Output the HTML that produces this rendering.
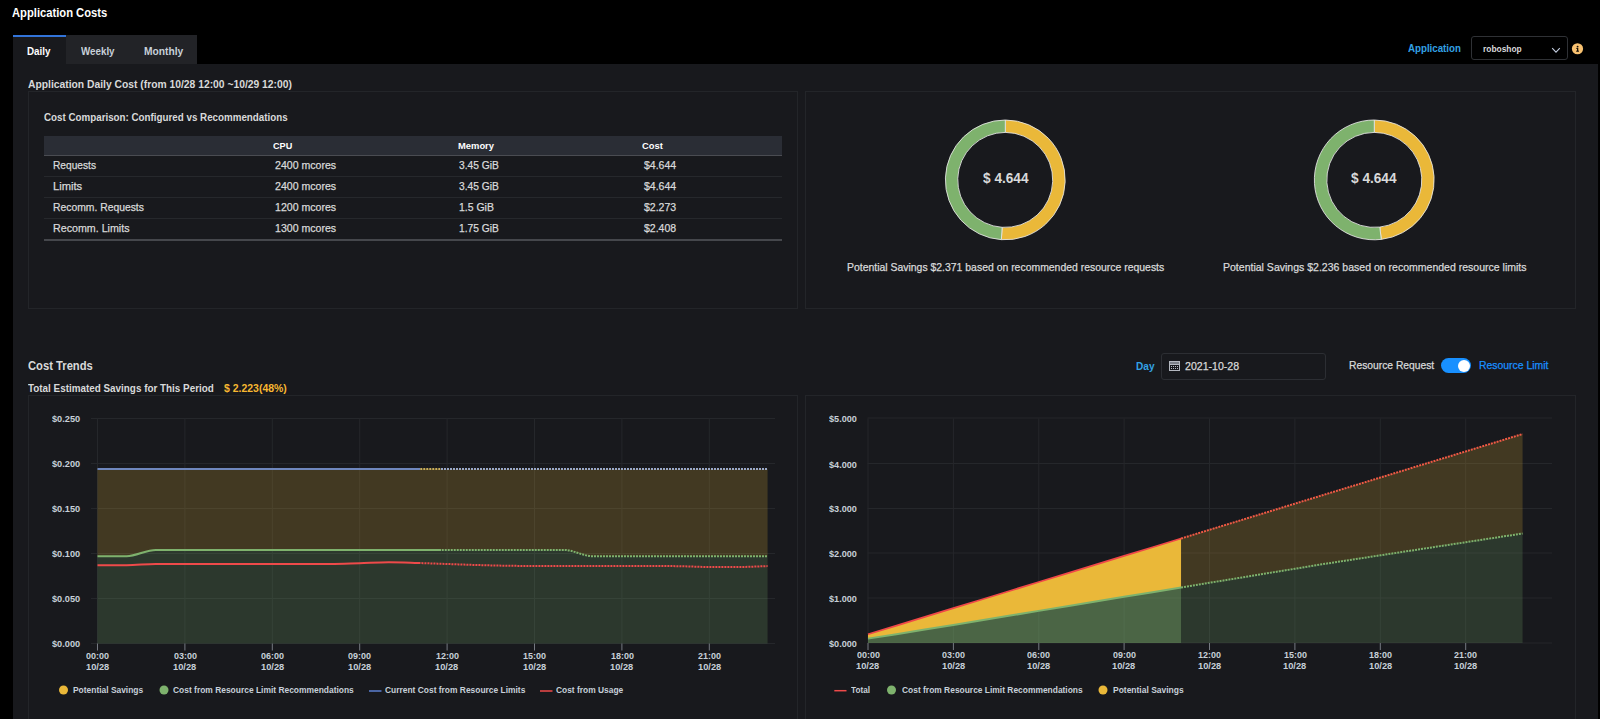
<!DOCTYPE html>
  <html><head><meta charset="utf-8"><style>
  *{box-sizing:border-box}
  html,body{margin:0;padding:0}
  body{width:1600px;height:719px;background:#000;position:relative;overflow:hidden;font-family:"Liberation Sans", sans-serif}
  .t{position:absolute;white-space:nowrap;transform-origin:0 0;font-family:"Liberation Sans", sans-serif}
  .a{position:absolute}
  </style></head><body>
  <!-- tabs -->
  <div class="a" style="left:13px;top:35px;width:53px;height:29px;background:#18191d;border-top:2px solid #3274d9"></div>
  <div class="a" style="left:66px;top:35px;width:131px;height:29px;background:#222327"></div>
  <!-- select -->
  <div class="a" style="left:1471px;top:36px;width:97px;height:24px;border:1px solid #2f3135;border-radius:3px;background:#000"></div>
  <!-- panel -->
  <div class="a" style="left:13px;top:64px;width:1585px;height:655px;background:#18191d"></div>
  <!-- boxes -->
  <div class="a" style="left:28px;top:91px;width:770px;height:218px;border:1px solid #232529"></div>
  <div class="a" style="left:805px;top:91px;width:771px;height:218px;border:1px solid #232529"></div>
  <div class="a" style="left:28px;top:395px;width:770px;height:340px;border:1px solid #232529"></div>
  <div class="a" style="left:805px;top:395px;width:771px;height:340px;border:1px solid #232529"></div>
  <!-- table -->
  <div class="a" style="left:44px;top:136px;width:738px;height:20px;background:#2a2d35;border-bottom:1px solid #4a4c52"></div>
  <div class="a" style="left:44px;top:176px;width:738px;height:1px;background:#26282c"></div>
  <div class="a" style="left:44px;top:197px;width:738px;height:1px;background:#26282c"></div>
  <div class="a" style="left:44px;top:218px;width:738px;height:1px;background:#26282c"></div>
  <div class="a" style="left:44px;top:239px;width:738px;height:2px;background:#45474c"></div>
  <!-- date input -->
  <div class="a" style="left:1161px;top:353px;width:165px;height:27px;border:1px solid #2c2e33;border-radius:3px"></div>
  <!-- toggle -->
  <div class="a" style="left:1441px;top:358px;width:30px;height:15px;border-radius:8px;background:#1890ff"></div>
  <div class="a" style="left:1457.5px;top:359.5px;width:12px;height:12px;border-radius:6px;background:#fff"></div>
  <svg class="a" style="left:0;top:0" width="1600" height="719" viewBox="0 0 1600 719">
  <line x1="91" y1="643.5" x2="775" y2="643.5" stroke="#25272b" stroke-width="1"/>
<line x1="91" y1="598.5" x2="775" y2="598.5" stroke="#25272b" stroke-width="1"/>
<line x1="91" y1="553.5" x2="775" y2="553.5" stroke="#25272b" stroke-width="1"/>
<line x1="91" y1="508.5" x2="775" y2="508.5" stroke="#25272b" stroke-width="1"/>
<line x1="91" y1="463.5" x2="775" y2="463.5" stroke="#25272b" stroke-width="1"/>
<line x1="91" y1="418.5" x2="775" y2="418.5" stroke="#25272b" stroke-width="1"/>
<line x1="97.5" y1="418.5" x2="97.5" y2="643.5" stroke="#25272b" stroke-width="1"/>
<line x1="97.5" y1="643.5" x2="97.5" y2="650.5" stroke="#767a82" stroke-width="1"/>
<line x1="184.9" y1="418.5" x2="184.9" y2="643.5" stroke="#25272b" stroke-width="1"/>
<line x1="184.9" y1="643.5" x2="184.9" y2="650.5" stroke="#767a82" stroke-width="1"/>
<line x1="272.3" y1="418.5" x2="272.3" y2="643.5" stroke="#25272b" stroke-width="1"/>
<line x1="272.3" y1="643.5" x2="272.3" y2="650.5" stroke="#767a82" stroke-width="1"/>
<line x1="359.7" y1="418.5" x2="359.7" y2="643.5" stroke="#25272b" stroke-width="1"/>
<line x1="359.7" y1="643.5" x2="359.7" y2="650.5" stroke="#767a82" stroke-width="1"/>
<line x1="447.1" y1="418.5" x2="447.1" y2="643.5" stroke="#25272b" stroke-width="1"/>
<line x1="447.1" y1="643.5" x2="447.1" y2="650.5" stroke="#767a82" stroke-width="1"/>
<line x1="534.5" y1="418.5" x2="534.5" y2="643.5" stroke="#25272b" stroke-width="1"/>
<line x1="534.5" y1="643.5" x2="534.5" y2="650.5" stroke="#767a82" stroke-width="1"/>
<line x1="621.9" y1="418.5" x2="621.9" y2="643.5" stroke="#25272b" stroke-width="1"/>
<line x1="621.9" y1="643.5" x2="621.9" y2="650.5" stroke="#767a82" stroke-width="1"/>
<line x1="709.3" y1="418.5" x2="709.3" y2="643.5" stroke="#25272b" stroke-width="1"/>
<line x1="709.3" y1="643.5" x2="709.3" y2="650.5" stroke="#767a82" stroke-width="1"/>
<path d="M97.50,556.20 C107.21,556.20 116.92,556.20 126.63,556.20 C136.34,556.20 146.06,549.90 155.77,549.90 C165.48,549.90 175.19,549.90 184.90,549.90 C194.61,549.90 204.32,549.90 214.03,549.90 C223.74,549.90 233.46,549.90 243.17,549.90 C252.88,549.90 262.59,549.90 272.30,549.90 C282.01,549.90 291.72,549.90 301.43,549.90 C311.14,549.90 320.86,549.90 330.57,549.90 C340.28,549.90 349.99,549.90 359.70,549.90 C369.41,549.90 379.12,549.90 388.83,549.90 C398.54,549.90 408.26,549.90 417.97,549.90 C427.68,549.90 437.39,549.90 447.10,549.90 C456.81,549.90 466.52,549.90 476.23,549.90 C485.94,549.90 495.66,549.90 505.37,549.90 C515.08,549.90 524.79,549.90 534.50,549.90 C544.21,549.90 553.92,549.90 563.63,549.90 C573.34,549.90 583.06,556.20 592.77,556.20 C602.48,556.20 612.19,556.20 621.90,556.20 C631.61,556.20 641.32,556.20 651.03,556.20 C660.74,556.20 670.46,556.20 680.17,556.20 C689.88,556.20 699.59,556.20 709.30,556.20 C719.01,556.20 728.72,556.20 738.43,556.20 C748.14,556.20 757.86,556.20 767.57,556.20 L767.57,643.5 L97.50,643.5 Z" fill="#7eb26d" fill-opacity="0.2"/>
<path d="M97.50,468.90 L126.63,468.90 L155.77,468.90 L184.90,468.90 L214.03,468.90 L243.17,468.90 L272.30,468.90 L301.43,468.90 L330.57,468.90 L359.70,468.90 L388.83,468.90 L417.97,468.90 L447.10,468.90 L476.23,468.90 L505.37,468.90 L534.50,468.90 L563.63,468.90 L592.77,468.90 L621.90,468.90 L651.03,468.90 L680.17,468.90 L709.30,468.90 L738.43,468.90 L767.57,468.90 L767.57,556.20 767.57,556.20 C757.86,556.20 748.14,556.20 738.43,556.20 C728.72,556.20 719.01,556.20 709.30,556.20 C699.59,556.20 689.88,556.20 680.17,556.20 C670.46,556.20 660.74,556.20 651.03,556.20 C641.32,556.20 631.61,556.20 621.90,556.20 C612.19,556.20 602.48,556.20 592.77,556.20 C583.06,556.20 573.34,549.90 563.63,549.90 C553.92,549.90 544.21,549.90 534.50,549.90 C524.79,549.90 515.08,549.90 505.37,549.90 C495.66,549.90 485.94,549.90 476.23,549.90 C466.52,549.90 456.81,549.90 447.10,549.90 C437.39,549.90 427.68,549.90 417.97,549.90 C408.26,549.90 398.54,549.90 388.83,549.90 C379.12,549.90 369.41,549.90 359.70,549.90 C349.99,549.90 340.28,549.90 330.57,549.90 C320.86,549.90 311.14,549.90 301.43,549.90 C291.72,549.90 282.01,549.90 272.30,549.90 C262.59,549.90 252.88,549.90 243.17,549.90 C233.46,549.90 223.74,549.90 214.03,549.90 C204.32,549.90 194.61,549.90 184.90,549.90 C175.19,549.90 165.48,549.90 155.77,549.90 C146.06,549.90 136.34,556.20 126.63,556.20 C116.92,556.20 107.21,556.20 97.50,556.20 Z" fill="#eab839" fill-opacity="0.2"/>
<line x1="97.5" y1="468.90" x2="420.3" y2="468.90" stroke="#6f87bd" stroke-width="2"/>
<line x1="420.3" y1="468.90" x2="441" y2="468.90" stroke="#c9ae5a" stroke-width="2" stroke-dasharray="2,1"/>
<line x1="441" y1="468.90" x2="767.57" y2="468.90" stroke="#9aa8c8" stroke-width="2" stroke-dasharray="2,1"/>
<clipPath id="lg1"><rect x="0" y="0" width="441.00" height="719"/></clipPath>
<clipPath id="lg2"><rect x="441.00" y="0" width="1600" height="719"/></clipPath>
<clipPath id="lr1"><rect x="0" y="0" width="420.30" height="719"/></clipPath>
<clipPath id="lr2"><rect x="420.30" y="0" width="1600" height="719"/></clipPath>
<path d="M97.50,556.20 C107.21,556.20 116.92,556.20 126.63,556.20 C136.34,556.20 146.06,549.90 155.77,549.90 C165.48,549.90 175.19,549.90 184.90,549.90 C194.61,549.90 204.32,549.90 214.03,549.90 C223.74,549.90 233.46,549.90 243.17,549.90 C252.88,549.90 262.59,549.90 272.30,549.90 C282.01,549.90 291.72,549.90 301.43,549.90 C311.14,549.90 320.86,549.90 330.57,549.90 C340.28,549.90 349.99,549.90 359.70,549.90 C369.41,549.90 379.12,549.90 388.83,549.90 C398.54,549.90 408.26,549.90 417.97,549.90 C427.68,549.90 437.39,549.90 447.10,549.90 C456.81,549.90 466.52,549.90 476.23,549.90 C485.94,549.90 495.66,549.90 505.37,549.90 C515.08,549.90 524.79,549.90 534.50,549.90 C544.21,549.90 553.92,549.90 563.63,549.90 C573.34,549.90 583.06,556.20 592.77,556.20 C602.48,556.20 612.19,556.20 621.90,556.20 C631.61,556.20 641.32,556.20 651.03,556.20 C660.74,556.20 670.46,556.20 680.17,556.20 C689.88,556.20 699.59,556.20 709.30,556.20 C719.01,556.20 728.72,556.20 738.43,556.20 C748.14,556.20 757.86,556.20 767.57,556.20" fill="none" stroke="#7eb26d" stroke-width="2" clip-path="url(#lg1)"/>
<path d="M97.50,556.20 C107.21,556.20 116.92,556.20 126.63,556.20 C136.34,556.20 146.06,549.90 155.77,549.90 C165.48,549.90 175.19,549.90 184.90,549.90 C194.61,549.90 204.32,549.90 214.03,549.90 C223.74,549.90 233.46,549.90 243.17,549.90 C252.88,549.90 262.59,549.90 272.30,549.90 C282.01,549.90 291.72,549.90 301.43,549.90 C311.14,549.90 320.86,549.90 330.57,549.90 C340.28,549.90 349.99,549.90 359.70,549.90 C369.41,549.90 379.12,549.90 388.83,549.90 C398.54,549.90 408.26,549.90 417.97,549.90 C427.68,549.90 437.39,549.90 447.10,549.90 C456.81,549.90 466.52,549.90 476.23,549.90 C485.94,549.90 495.66,549.90 505.37,549.90 C515.08,549.90 524.79,549.90 534.50,549.90 C544.21,549.90 553.92,549.90 563.63,549.90 C573.34,549.90 583.06,556.20 592.77,556.20 C602.48,556.20 612.19,556.20 621.90,556.20 C631.61,556.20 641.32,556.20 651.03,556.20 C660.74,556.20 670.46,556.20 680.17,556.20 C689.88,556.20 699.59,556.20 709.30,556.20 C719.01,556.20 728.72,556.20 738.43,556.20 C748.14,556.20 757.86,556.20 767.57,556.20" fill="none" stroke="#7eb26d" stroke-width="2" stroke-dasharray="2,1" clip-path="url(#lg2)"/>
<path d="M97.50,565.20 C107.21,565.20 116.92,565.20 126.63,565.20 C136.34,565.20 146.06,564.00 155.77,564.00 C165.48,564.00 175.19,564.00 184.90,564.00 C194.61,564.00 204.32,564.00 214.03,564.00 C223.74,564.00 233.46,564.00 243.17,564.00 C252.88,564.00 262.59,564.00 272.30,564.00 C282.01,564.00 291.72,564.00 301.43,564.00 C311.14,564.00 320.86,564.00 330.57,564.00 C340.28,564.00 349.99,563.48 359.70,563.20 C369.41,562.92 379.12,562.30 388.83,562.30 C398.54,562.30 408.26,562.72 417.97,563.00 C427.68,563.28 437.39,563.67 447.10,564.00 C456.81,564.33 466.52,564.72 476.23,565.00 C485.94,565.28 495.66,565.53 505.37,565.70 C515.08,565.87 524.79,566.00 534.50,566.00 C544.21,566.00 553.92,566.00 563.63,566.00 C573.34,566.00 583.06,566.00 592.77,566.00 C602.48,566.00 612.19,566.00 621.90,566.00 C631.61,566.00 641.32,566.00 651.03,566.00 C660.74,566.00 670.46,566.03 680.17,566.20 C689.88,566.37 699.59,567.00 709.30,567.00 C719.01,567.00 728.72,567.00 738.43,567.00 C748.14,567.00 757.86,566.40 767.57,566.10" fill="none" stroke="#ee4a4a" stroke-width="2" clip-path="url(#lr1)"/>
<path d="M97.50,565.20 C107.21,565.20 116.92,565.20 126.63,565.20 C136.34,565.20 146.06,564.00 155.77,564.00 C165.48,564.00 175.19,564.00 184.90,564.00 C194.61,564.00 204.32,564.00 214.03,564.00 C223.74,564.00 233.46,564.00 243.17,564.00 C252.88,564.00 262.59,564.00 272.30,564.00 C282.01,564.00 291.72,564.00 301.43,564.00 C311.14,564.00 320.86,564.00 330.57,564.00 C340.28,564.00 349.99,563.48 359.70,563.20 C369.41,562.92 379.12,562.30 388.83,562.30 C398.54,562.30 408.26,562.72 417.97,563.00 C427.68,563.28 437.39,563.67 447.10,564.00 C456.81,564.33 466.52,564.72 476.23,565.00 C485.94,565.28 495.66,565.53 505.37,565.70 C515.08,565.87 524.79,566.00 534.50,566.00 C544.21,566.00 553.92,566.00 563.63,566.00 C573.34,566.00 583.06,566.00 592.77,566.00 C602.48,566.00 612.19,566.00 621.90,566.00 C631.61,566.00 641.32,566.00 651.03,566.00 C660.74,566.00 670.46,566.03 680.17,566.20 C689.88,566.37 699.59,567.00 709.30,567.00 C719.01,567.00 728.72,567.00 738.43,567.00 C748.14,567.00 757.86,566.40 767.57,566.10" fill="none" stroke="#ee4a4a" stroke-width="2" stroke-dasharray="2,1" clip-path="url(#lr2)"/>
  <line x1="867.5" y1="643.0" x2="1552" y2="643.0" stroke="#25272b" stroke-width="1"/>
<line x1="867.5" y1="598.0" x2="1552" y2="598.0" stroke="#25272b" stroke-width="1"/>
<line x1="867.5" y1="553.0" x2="1552" y2="553.0" stroke="#25272b" stroke-width="1"/>
<line x1="867.5" y1="508.5" x2="1552" y2="508.5" stroke="#25272b" stroke-width="1"/>
<line x1="867.5" y1="463.5" x2="1552" y2="463.5" stroke="#25272b" stroke-width="1"/>
<line x1="867.5" y1="418.0" x2="1552" y2="418.0" stroke="#25272b" stroke-width="1"/>
<line x1="868.0" y1="418.5" x2="868.0" y2="643.0" stroke="#25272b" stroke-width="1"/>
<line x1="868.0" y1="643.0" x2="868.0" y2="650.0" stroke="#767a82" stroke-width="1"/>
<line x1="953.4" y1="418.5" x2="953.4" y2="643.0" stroke="#25272b" stroke-width="1"/>
<line x1="953.4" y1="643.0" x2="953.4" y2="650.0" stroke="#767a82" stroke-width="1"/>
<line x1="1038.8" y1="418.5" x2="1038.8" y2="643.0" stroke="#25272b" stroke-width="1"/>
<line x1="1038.8" y1="643.0" x2="1038.8" y2="650.0" stroke="#767a82" stroke-width="1"/>
<line x1="1124.1" y1="418.5" x2="1124.1" y2="643.0" stroke="#25272b" stroke-width="1"/>
<line x1="1124.1" y1="643.0" x2="1124.1" y2="650.0" stroke="#767a82" stroke-width="1"/>
<line x1="1209.5" y1="418.5" x2="1209.5" y2="643.0" stroke="#25272b" stroke-width="1"/>
<line x1="1209.5" y1="643.0" x2="1209.5" y2="650.0" stroke="#767a82" stroke-width="1"/>
<line x1="1294.9" y1="418.5" x2="1294.9" y2="643.0" stroke="#25272b" stroke-width="1"/>
<line x1="1294.9" y1="643.0" x2="1294.9" y2="650.0" stroke="#767a82" stroke-width="1"/>
<line x1="1380.3" y1="418.5" x2="1380.3" y2="643.0" stroke="#25272b" stroke-width="1"/>
<line x1="1380.3" y1="643.0" x2="1380.3" y2="650.0" stroke="#767a82" stroke-width="1"/>
<line x1="1465.7" y1="418.5" x2="1465.7" y2="643.0" stroke="#25272b" stroke-width="1"/>
<line x1="1465.7" y1="643.0" x2="1465.7" y2="650.0" stroke="#767a82" stroke-width="1"/>
<path d="M1181.06,587.47 L1209.52,582.79 L1237.98,578.11 L1266.44,573.43 L1294.90,568.75 L1323.36,564.07 L1351.82,559.70 L1380.28,555.34 L1408.74,550.97 L1437.20,546.61 L1465.66,542.25 L1494.12,537.88 L1522.58,533.51 L1522.58,643.0 L1181.06,643.0 Z" fill="#7eb26d" fill-opacity="0.2"/>
<path d="M1181.06,538.51 L1209.52,529.80 L1237.98,521.10 L1266.44,512.39 L1294.90,503.68 L1323.36,494.97 L1351.82,486.26 L1380.28,477.56 L1408.74,468.85 L1437.20,460.14 L1465.66,451.44 L1494.12,442.73 L1522.58,434.02 L1522.58,533.51 1522.58,533.51 L1494.12,537.88 L1465.66,542.25 L1437.20,546.61 L1408.74,550.97 L1380.28,555.34 L1351.82,559.70 L1323.36,564.07 L1294.90,568.75 L1266.44,573.43 L1237.98,578.11 L1209.52,582.79 L1181.06,587.47 Z" fill="#eab839" fill-opacity="0.2"/>
<path d="M868.00,638.63 L896.46,634.27 L924.92,629.59 L953.38,624.91 L981.84,620.23 L1010.30,615.55 L1038.76,610.87 L1067.22,606.19 L1095.68,601.51 L1124.14,596.83 L1152.60,592.15 L1181.06,587.47 L1181.06,643.0 L868.00,643.0 Z" fill="#7eb26d" fill-opacity="0.5"/>
<path d="M868.00,634.29 L896.46,625.59 L924.92,616.88 L953.38,608.17 L981.84,599.46 L1010.30,590.75 L1038.76,582.05 L1067.22,573.34 L1095.68,564.63 L1124.14,555.92 L1152.60,547.22 L1181.06,538.51 L1181.06,587.47 1181.06,587.47 L1152.60,592.15 L1124.14,596.83 L1095.68,601.51 L1067.22,606.19 L1038.76,610.87 L1010.30,615.55 L981.84,620.23 L953.38,624.91 L924.92,629.59 L896.46,634.27 L868.00,638.63 Z" fill="#eab839" fill-opacity="1"/>
<path d="M868.00,638.63 L896.46,634.27 L924.92,629.59 L953.38,624.91 L981.84,620.23 L1010.30,615.55 L1038.76,610.87 L1067.22,606.19 L1095.68,601.51 L1124.14,596.83 L1152.60,592.15 L1181.06,587.47" fill="none" stroke="#7eb26d" stroke-width="2"/>
<path d="M868.00,634.29 L896.46,625.59 L924.92,616.88 L953.38,608.17 L981.84,599.46 L1010.30,590.75 L1038.76,582.05 L1067.22,573.34 L1095.68,564.63 L1124.14,555.92 L1152.60,547.22 L1181.06,538.51" fill="none" stroke="#f04848" stroke-width="1.7"/>
<path d="M1181.06,587.47 L1209.52,582.79 L1237.98,578.11 L1266.44,573.43 L1294.90,568.75 L1323.36,564.07 L1351.82,559.70 L1380.28,555.34 L1408.74,550.97 L1437.20,546.61 L1465.66,542.25 L1494.12,537.88 L1522.58,533.51" fill="none" stroke="#7eb26d" stroke-width="2" stroke-dasharray="2,1"/>
<path d="M1181.06,538.51 L1209.52,529.80 L1237.98,521.10 L1266.44,512.39 L1294.90,503.68 L1323.36,494.97 L1351.82,486.26 L1380.28,477.56 L1408.74,468.85 L1437.20,460.14 L1465.66,451.44 L1494.12,442.73 L1522.58,434.02" fill="none" stroke="#f05a45" stroke-width="2" stroke-dasharray="2,1"/>
  <path d="M1005.30,120.00 A59.9,59.9 0 1 1 1001.33,239.67 L1002.15,227.30 A47.5,47.5 0 1 0 1005.30,132.40 Z" fill="#eab839" stroke="#e8e8e8" stroke-opacity="0.85" stroke-width="1"/><path d="M1001.33,239.67 A59.9,59.9 0 0 1 1005.30,120.00 L1005.30,132.40 A47.5,47.5 0 0 0 1002.15,227.30 Z" fill="#7eb26d" stroke="#e8e8e8" stroke-opacity="0.85" stroke-width="1"/>
  <path d="M1374.30,120.00 A59.9,59.9 0 0 1 1381.25,239.39 L1379.81,227.08 A47.5,47.5 0 0 0 1374.30,132.40 Z" fill="#eab839" stroke="#e8e8e8" stroke-opacity="0.85" stroke-width="1"/><path d="M1381.25,239.39 A59.9,59.9 0 1 1 1374.30,120.00 L1374.30,132.40 A47.5,47.5 0 1 0 1379.81,227.08 Z" fill="#7eb26d" stroke="#e8e8e8" stroke-opacity="0.85" stroke-width="1"/>
  <!-- chevron -->
  <polyline points="1552.2,48.2 1556,52.1 1559.8,48.2" fill="none" stroke="#c4cee0" stroke-width="1.1"/>
  <!-- info icon -->
  <circle cx="1577.5" cy="48.75" r="5.6" fill="#f8c170"/>
  <circle cx="1577.6" cy="46.6" r="0.95" fill="#1a1206"/>
  <rect x="1577" y="47.9" width="1.3" height="3.4" fill="#1a1206"/>
  <rect x="1576.2" y="47.9" width="1" height="0.9" fill="#1a1206"/>
  <rect x="1576.1" y="50.7" width="2.9" height="1" fill="#1a1206"/>
  <!-- calendar icon -->
  <rect x="1169.5" y="361.5" width="10" height="3" fill="#7c8088"/>
  <g fill="none" stroke="#b4b8c0" stroke-width="1">
  <rect x="1169.5" y="361.5" width="10" height="9"/>
  <line x1="1169.5" y1="364.5" x2="1179.5" y2="364.5"/>
  </g>
  <g fill="#b4b8c0"><rect x="1171" y="366" width="1" height="1"/><rect x="1173" y="366" width="1" height="1"/><rect x="1175" y="366" width="1" height="1"/><rect x="1177" y="366" width="1" height="1"/>
  <rect x="1171" y="368" width="1" height="1"/><rect x="1173" y="368" width="1" height="1"/><rect x="1175" y="368" width="1" height="1"/><rect x="1177" y="368" width="1" height="1"/></g>
  <!-- legend markers -->
  <circle cx="63.5" cy="690" r="4.5" fill="#eab839"/>
  <circle cx="164" cy="690" r="4.5" fill="#7eb26d"/>
  <line x1="369" y1="691" x2="381.5" y2="691" stroke="#5b7fd0" stroke-width="1.5"/>
  <line x1="540" y1="691" x2="552.5" y2="691" stroke="#ee4a4a" stroke-width="1.5"/>
  <line x1="834.3" y1="690.7" x2="846.5" y2="690.7" stroke="#ee4a4a" stroke-width="1.5"/>
  <circle cx="891.5" cy="690" r="4.5" fill="#7eb26d"/>
  <circle cx="1103" cy="690" r="4.5" fill="#eab839"/>
  </svg>
  <div class="t" style="left:12.40px;top:7px;font-size:12px;line-height:12px;font-weight:700;color:#ffffff;transform:scaleX(0.9333);">Application Costs</div>
<div class="t" style="left:26.91px;top:46px;font-size:11px;line-height:11px;font-weight:700;color:#ffffff;transform:scaleX(0.8923);">Daily</div>
<div class="t" style="left:80.70px;top:46px;font-size:11px;line-height:11px;font-weight:700;color:#c7d0d9;transform:scaleX(0.8895);">Weekly</div>
<div class="t" style="left:143.67px;top:46px;font-size:11px;line-height:11px;font-weight:700;color:#c7d0d9;transform:scaleX(0.9317);">Monthly</div>
<div class="t" style="left:1408.00px;top:43px;font-size:11px;line-height:11px;font-weight:700;color:#33a2e5;transform:scaleX(0.8833);">Application</div>
<div class="t" style="left:1482.80px;top:45px;font-size:9px;line-height:9px;font-weight:700;color:#d8d9da;transform:scaleX(0.9341);">roboshop</div>
<div class="t" style="left:27.90px;top:79px;font-size:11px;line-height:11px;font-weight:700;color:#d8d9da;transform:scaleX(0.9374);">Application Daily Cost (from 10/28 12:00 ~10/29 12:00)</div>
<div class="t" style="left:44.00px;top:112px;font-size:11px;line-height:11px;font-weight:700;color:#d8d9da;transform:scaleX(0.8898);">Cost Comparison: Configured vs Recommendations</div>
<div class="t" style="left:273.00px;top:142px;font-size:9px;line-height:9px;font-weight:700;color:#ffffff;transform:scaleX(1.0105);">CPU</div>
<div class="t" style="left:457.50px;top:142px;font-size:9px;line-height:9px;font-weight:700;color:#ffffff;transform:scaleX(1.0429);">Memory</div>
<div class="t" style="left:642.00px;top:142px;font-size:9px;line-height:9px;font-weight:700;color:#ffffff;transform:scaleX(1.0400);">Cost</div>
<div class="t" style="left:52.75px;top:160px;font-size:11px;line-height:11px;font-weight:400;color:#d8d9da;transform:scaleX(0.9255);-webkit-text-stroke:0.25px #d8d9da;">Requests</div>
<div class="t" style="left:274.90px;top:160px;font-size:11px;line-height:11px;font-weight:400;color:#d8d9da;transform:scaleX(0.9609);-webkit-text-stroke:0.25px #d8d9da;">2400 mcores</div>
<div class="t" style="left:459.00px;top:160px;font-size:11px;line-height:11px;font-weight:400;color:#d8d9da;transform:scaleX(0.9302);-webkit-text-stroke:0.25px #d8d9da;">3.45 GiB</div>
<div class="t" style="left:643.60px;top:160px;font-size:11px;line-height:11px;font-weight:400;color:#d8d9da;transform:scaleX(0.9559);-webkit-text-stroke:0.25px #d8d9da;">$4.644</div>
<div class="t" style="left:52.75px;top:181px;font-size:11px;line-height:11px;font-weight:400;color:#d8d9da;transform:scaleX(1.0138);-webkit-text-stroke:0.25px #d8d9da;">Limits</div>
<div class="t" style="left:274.90px;top:181px;font-size:11px;line-height:11px;font-weight:400;color:#d8d9da;transform:scaleX(0.9609);-webkit-text-stroke:0.25px #d8d9da;">2400 mcores</div>
<div class="t" style="left:459.00px;top:181px;font-size:11px;line-height:11px;font-weight:400;color:#d8d9da;transform:scaleX(0.9302);-webkit-text-stroke:0.25px #d8d9da;">3.45 GiB</div>
<div class="t" style="left:643.60px;top:181px;font-size:11px;line-height:11px;font-weight:400;color:#d8d9da;transform:scaleX(0.9559);-webkit-text-stroke:0.25px #d8d9da;">$4.644</div>
<div class="t" style="left:52.75px;top:202px;font-size:11px;line-height:11px;font-weight:400;color:#d8d9da;transform:scaleX(0.9412);-webkit-text-stroke:0.25px #d8d9da;">Recomm. Requests</div>
<div class="t" style="left:274.90px;top:202px;font-size:11px;line-height:11px;font-weight:400;color:#d8d9da;transform:scaleX(0.9609);-webkit-text-stroke:0.25px #d8d9da;">1200 mcores</div>
<div class="t" style="left:459.00px;top:202px;font-size:11px;line-height:11px;font-weight:400;color:#d8d9da;transform:scaleX(0.9500);-webkit-text-stroke:0.25px #d8d9da;">1.5 GiB</div>
<div class="t" style="left:643.60px;top:202px;font-size:11px;line-height:11px;font-weight:400;color:#d8d9da;transform:scaleX(0.9559);-webkit-text-stroke:0.25px #d8d9da;">$2.273</div>
<div class="t" style="left:52.75px;top:223px;font-size:11px;line-height:11px;font-weight:400;color:#d8d9da;transform:scaleX(0.9709);-webkit-text-stroke:0.25px #d8d9da;">Recomm. Limits</div>
<div class="t" style="left:274.90px;top:223px;font-size:11px;line-height:11px;font-weight:400;color:#d8d9da;transform:scaleX(0.9609);-webkit-text-stroke:0.25px #d8d9da;">1300 mcores</div>
<div class="t" style="left:459.00px;top:223px;font-size:11px;line-height:11px;font-weight:400;color:#d8d9da;transform:scaleX(0.9279);-webkit-text-stroke:0.25px #d8d9da;">1.75 GiB</div>
<div class="t" style="left:643.60px;top:223px;font-size:11px;line-height:11px;font-weight:400;color:#d8d9da;transform:scaleX(0.9559);-webkit-text-stroke:0.25px #d8d9da;">$2.408</div>
<div class="t" style="left:982.70px;top:171px;font-size:14px;line-height:14px;font-weight:700;color:#d8d9da;transform:scaleX(0.9745);">$ 4.644</div>
<div class="t" style="left:1351.40px;top:171px;font-size:14px;line-height:14px;font-weight:700;color:#d8d9da;transform:scaleX(0.9745);">$ 4.644</div>
<div class="t" style="left:847.00px;top:262px;font-size:11px;line-height:11px;font-weight:400;color:#d8d9da;transform:scaleX(0.9484);-webkit-text-stroke:0.25px #d8d9da;">Potential Savings $2.371 based on recommended resource requests</div>
<div class="t" style="left:1223.40px;top:262px;font-size:11px;line-height:11px;font-weight:400;color:#d8d9da;transform:scaleX(0.9565);-webkit-text-stroke:0.25px #d8d9da;">Potential Savings $2.236 based on recommended resource limits</div>
<div class="t" style="left:27.50px;top:360px;font-size:12.5px;line-height:12.5px;font-weight:700;color:#d8d9da;transform:scaleX(0.8972);">Cost Trends</div>
<div class="t" style="left:27.60px;top:383px;font-size:11px;line-height:11px;font-weight:700;color:#d8d9da;transform:scaleX(0.8976);">Total Estimated Savings for This Period</div>
<div class="t" style="left:224.40px;top:383px;font-size:11px;line-height:11px;font-weight:700;color:#f7b731;transform:scaleX(0.9515);">$ 2.223(48%)</div>
<div class="t" style="left:1135.68px;top:361px;font-size:11px;line-height:11px;font-weight:700;color:#33a2e5;transform:scaleX(0.9158);">Day</div>
<div class="t" style="left:1184.90px;top:361px;font-size:11px;line-height:11px;font-weight:400;color:#d8d9da;transform:scaleX(0.9607);-webkit-text-stroke:0.25px #d8d9da;">2021-10-28</div>
<div class="t" style="left:1348.90px;top:360px;font-size:11px;line-height:11px;font-weight:400;color:#d8d9da;transform:scaleX(0.9352);-webkit-text-stroke:0.25px #d8d9da;">Resource Request</div>
<div class="t" style="left:1478.90px;top:360px;font-size:11px;line-height:11px;font-weight:400;color:#1890ff;transform:scaleX(0.9473);-webkit-text-stroke:0.25px #1890ff;">Resource Limit</div>
<div class="t" style="left:51.90px;top:639px;font-size:9.5px;line-height:9.5px;font-weight:700;color:#c7d0d9;transform:scaleX(0.9690);">$0.000</div>
<div class="t" style="left:51.90px;top:594px;font-size:9.5px;line-height:9.5px;font-weight:700;color:#c7d0d9;transform:scaleX(0.9690);">$0.050</div>
<div class="t" style="left:51.90px;top:549px;font-size:9.5px;line-height:9.5px;font-weight:700;color:#c7d0d9;transform:scaleX(0.9690);">$0.100</div>
<div class="t" style="left:51.90px;top:504px;font-size:9.5px;line-height:9.5px;font-weight:700;color:#c7d0d9;transform:scaleX(0.9690);">$0.150</div>
<div class="t" style="left:51.90px;top:459px;font-size:9.5px;line-height:9.5px;font-weight:700;color:#c7d0d9;transform:scaleX(0.9690);">$0.200</div>
<div class="t" style="left:51.90px;top:414px;font-size:9.5px;line-height:9.5px;font-weight:700;color:#c7d0d9;transform:scaleX(0.9690);">$0.250</div>
<div class="t" style="left:86.15px;top:651px;font-size:9.5px;line-height:9.5px;font-weight:700;color:#c7d0d9;transform:scaleX(0.9458);">00:00</div>
<div class="t" style="left:85.80px;top:662px;font-size:9.5px;line-height:9.5px;font-weight:700;color:#c7d0d9;transform:scaleX(0.9750);">10/28</div>
<div class="t" style="left:173.55px;top:651px;font-size:9.5px;line-height:9.5px;font-weight:700;color:#c7d0d9;transform:scaleX(0.9458);">03:00</div>
<div class="t" style="left:173.20px;top:662px;font-size:9.5px;line-height:9.5px;font-weight:700;color:#c7d0d9;transform:scaleX(0.9750);">10/28</div>
<div class="t" style="left:260.95px;top:651px;font-size:9.5px;line-height:9.5px;font-weight:700;color:#c7d0d9;transform:scaleX(0.9458);">06:00</div>
<div class="t" style="left:260.60px;top:662px;font-size:9.5px;line-height:9.5px;font-weight:700;color:#c7d0d9;transform:scaleX(0.9750);">10/28</div>
<div class="t" style="left:348.35px;top:651px;font-size:9.5px;line-height:9.5px;font-weight:700;color:#c7d0d9;transform:scaleX(0.9458);">09:00</div>
<div class="t" style="left:348.00px;top:662px;font-size:9.5px;line-height:9.5px;font-weight:700;color:#c7d0d9;transform:scaleX(0.9750);">10/28</div>
<div class="t" style="left:435.75px;top:651px;font-size:9.5px;line-height:9.5px;font-weight:700;color:#c7d0d9;transform:scaleX(0.9458);">12:00</div>
<div class="t" style="left:435.40px;top:662px;font-size:9.5px;line-height:9.5px;font-weight:700;color:#c7d0d9;transform:scaleX(0.9750);">10/28</div>
<div class="t" style="left:523.15px;top:651px;font-size:9.5px;line-height:9.5px;font-weight:700;color:#c7d0d9;transform:scaleX(0.9458);">15:00</div>
<div class="t" style="left:522.80px;top:662px;font-size:9.5px;line-height:9.5px;font-weight:700;color:#c7d0d9;transform:scaleX(0.9750);">10/28</div>
<div class="t" style="left:610.55px;top:651px;font-size:9.5px;line-height:9.5px;font-weight:700;color:#c7d0d9;transform:scaleX(0.9458);">18:00</div>
<div class="t" style="left:610.20px;top:662px;font-size:9.5px;line-height:9.5px;font-weight:700;color:#c7d0d9;transform:scaleX(0.9750);">10/28</div>
<div class="t" style="left:697.95px;top:651px;font-size:9.5px;line-height:9.5px;font-weight:700;color:#c7d0d9;transform:scaleX(0.9458);">21:00</div>
<div class="t" style="left:697.60px;top:662px;font-size:9.5px;line-height:9.5px;font-weight:700;color:#c7d0d9;transform:scaleX(0.9750);">10/28</div>
<div class="t" style="left:829.20px;top:639px;font-size:9.5px;line-height:9.5px;font-weight:700;color:#c7d0d9;transform:scaleX(0.9586);">$0.000</div>
<div class="t" style="left:829.20px;top:594px;font-size:9.5px;line-height:9.5px;font-weight:700;color:#c7d0d9;transform:scaleX(0.9586);">$1.000</div>
<div class="t" style="left:829.20px;top:549px;font-size:9.5px;line-height:9.5px;font-weight:700;color:#c7d0d9;transform:scaleX(0.9586);">$2.000</div>
<div class="t" style="left:829.20px;top:504px;font-size:9.5px;line-height:9.5px;font-weight:700;color:#c7d0d9;transform:scaleX(0.9586);">$3.000</div>
<div class="t" style="left:829.20px;top:460px;font-size:9.5px;line-height:9.5px;font-weight:700;color:#c7d0d9;transform:scaleX(0.9586);">$4.000</div>
<div class="t" style="left:829.20px;top:414px;font-size:9.5px;line-height:9.5px;font-weight:700;color:#c7d0d9;transform:scaleX(0.9586);">$5.000</div>
<div class="t" style="left:856.65px;top:650px;font-size:9.5px;line-height:9.5px;font-weight:700;color:#c7d0d9;transform:scaleX(0.9458);">00:00</div>
<div class="t" style="left:856.30px;top:661px;font-size:9.5px;line-height:9.5px;font-weight:700;color:#c7d0d9;transform:scaleX(0.9750);">10/28</div>
<div class="t" style="left:942.03px;top:650px;font-size:9.5px;line-height:9.5px;font-weight:700;color:#c7d0d9;transform:scaleX(0.9458);">03:00</div>
<div class="t" style="left:941.68px;top:661px;font-size:9.5px;line-height:9.5px;font-weight:700;color:#c7d0d9;transform:scaleX(0.9750);">10/28</div>
<div class="t" style="left:1027.41px;top:650px;font-size:9.5px;line-height:9.5px;font-weight:700;color:#c7d0d9;transform:scaleX(0.9458);">06:00</div>
<div class="t" style="left:1027.06px;top:661px;font-size:9.5px;line-height:9.5px;font-weight:700;color:#c7d0d9;transform:scaleX(0.9750);">10/28</div>
<div class="t" style="left:1112.79px;top:650px;font-size:9.5px;line-height:9.5px;font-weight:700;color:#c7d0d9;transform:scaleX(0.9458);">09:00</div>
<div class="t" style="left:1112.44px;top:661px;font-size:9.5px;line-height:9.5px;font-weight:700;color:#c7d0d9;transform:scaleX(0.9750);">10/28</div>
<div class="t" style="left:1198.17px;top:650px;font-size:9.5px;line-height:9.5px;font-weight:700;color:#c7d0d9;transform:scaleX(0.9458);">12:00</div>
<div class="t" style="left:1197.82px;top:661px;font-size:9.5px;line-height:9.5px;font-weight:700;color:#c7d0d9;transform:scaleX(0.9750);">10/28</div>
<div class="t" style="left:1283.55px;top:650px;font-size:9.5px;line-height:9.5px;font-weight:700;color:#c7d0d9;transform:scaleX(0.9458);">15:00</div>
<div class="t" style="left:1283.20px;top:661px;font-size:9.5px;line-height:9.5px;font-weight:700;color:#c7d0d9;transform:scaleX(0.9750);">10/28</div>
<div class="t" style="left:1368.93px;top:650px;font-size:9.5px;line-height:9.5px;font-weight:700;color:#c7d0d9;transform:scaleX(0.9458);">18:00</div>
<div class="t" style="left:1368.58px;top:661px;font-size:9.5px;line-height:9.5px;font-weight:700;color:#c7d0d9;transform:scaleX(0.9750);">10/28</div>
<div class="t" style="left:1454.31px;top:650px;font-size:9.5px;line-height:9.5px;font-weight:700;color:#c7d0d9;transform:scaleX(0.9458);">21:00</div>
<div class="t" style="left:1453.96px;top:661px;font-size:9.5px;line-height:9.5px;font-weight:700;color:#c7d0d9;transform:scaleX(0.9750);">10/28</div>
<div class="t" style="left:73.00px;top:685px;font-size:9.5px;line-height:9.5px;font-weight:700;color:#c7d0d9;transform:scaleX(0.8861);">Potential Savings</div>
<div class="t" style="left:173.40px;top:685px;font-size:9.5px;line-height:9.5px;font-weight:700;color:#c7d0d9;transform:scaleX(0.8873);">Cost from Resource Limit Recommendations</div>
<div class="t" style="left:385.00px;top:685px;font-size:9.5px;line-height:9.5px;font-weight:700;color:#c7d0d9;transform:scaleX(0.8861);">Current Cost from Resource Limits</div>
<div class="t" style="left:556.00px;top:685px;font-size:9.5px;line-height:9.5px;font-weight:700;color:#c7d0d9;transform:scaleX(0.8842);">Cost from Usage</div>
<div class="t" style="left:851.10px;top:685px;font-size:9.5px;line-height:9.5px;font-weight:700;color:#c7d0d9;transform:scaleX(0.8636);">Total</div>
<div class="t" style="left:902.00px;top:685px;font-size:9.5px;line-height:9.5px;font-weight:700;color:#c7d0d9;transform:scaleX(0.8868);">Cost from Resource Limit Recommendations</div>
<div class="t" style="left:1113.00px;top:685px;font-size:9.5px;line-height:9.5px;font-weight:700;color:#c7d0d9;transform:scaleX(0.8924);">Potential Savings</div>
  </body></html>
